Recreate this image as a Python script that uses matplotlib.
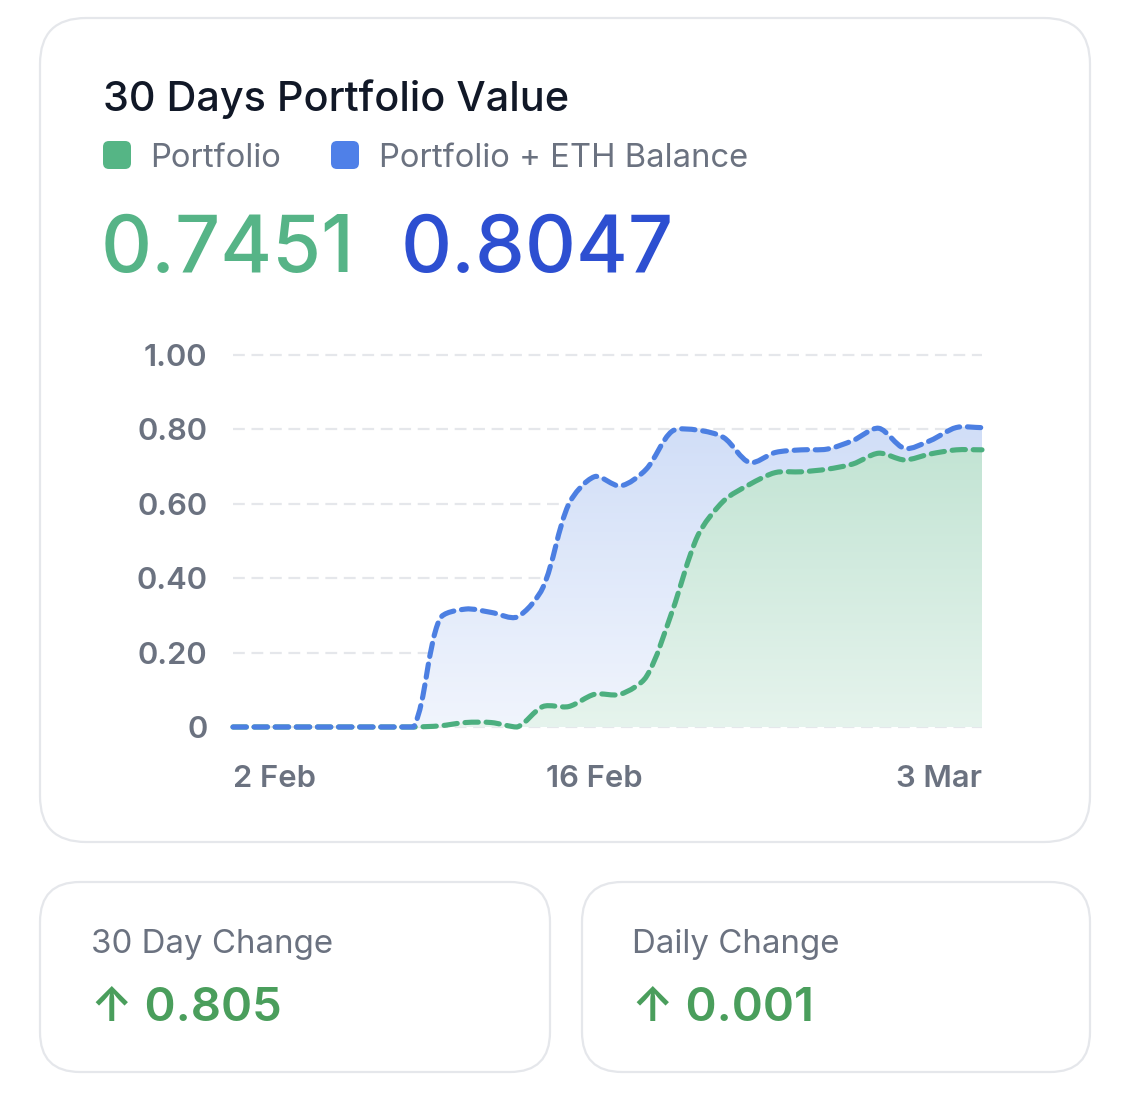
import numpy as np
import matplotlib
matplotlib.use('Agg')
import matplotlib.pyplot as plt
from matplotlib.patches import FancyBboxPatch, PathPatch
from matplotlib.path import Path
from matplotlib.colors import to_rgb

plt.rcParams['font.family'] = ['Inter', 'DejaVu Sans']
plt.rcParams['lines.scale_dashes'] = False

# ---------------- data ----------------
dates = [f'{d} Feb' for d in range(2, 29)] + ['1 Mar', '2 Mar', '3 Mar']
tick_labels = ['2 Feb', '16 Feb', '3 Mar']
y_ticks = [0, 0.2, 0.4, 0.6, 0.8, 1.0]
y_tick_labels = ['0', '0.20', '0.40', '0.60', '0.80', '1.00']

portfolio = [0, 0, 0, 0, 0, 0, 0, 0, 0.003, 0.012, 0.012, 0.0, 0.055, 0.055,
             0.088, 0.088, 0.135, 0.31, 0.515, 0.608, 0.652, 0.684, 0.686,
             0.693, 0.707, 0.736, 0.718, 0.734, 0.745, 0.7451]
portfolio_eth = [0, 0, 0, 0, 0, 0, 0, 0, 0.29, 0.317, 0.308, 0.296, 0.375,
                 0.599, 0.673, 0.648, 0.693, 0.795, 0.798, 0.778, 0.711, 0.738,
                 0.745, 0.747, 0.770, 0.803, 0.749, 0.770, 0.805, 0.8047]

legend_labels = ['Portfolio', 'Portfolio + ETH Balance']
headline_values = ['0.7451', '0.8047']
card_titles = ['30 Day Change', 'Daily Change']
card_values = ['↑ 0.805', '↑ 0.001']

# ---------------- style ----------------
GREEN_LINE = '#4caf7f'
BLUE_LINE = '#4c7fe2'
GREEN_SQ = '#55b585'
BLUE_SQ = '#4f80e8'
GREEN_TXT = '#56b487'
BLUE_TXT = '#2d4fd1'
CHANGE_GREEN = '#4a9e5c'
GRAY_TXT = '#6b7280'
DARK_TXT = '#111827'
BORDER = '#e5e7eb'

W, H = 1125, 1116
fig = plt.figure(figsize=(W / 100, H / 100), dpi=100)
fig.patch.set_facecolor('white')

bg = fig.add_axes([0, 0, 1, 1])
bg.set_xlim(0, W)
bg.set_ylim(H, 0)
bg.axis('off')


def card(x0, y0, x1, y1, r):
    p = FancyBboxPatch((x0, y0), x1 - x0, y1 - y0,
                       boxstyle=f'round,pad=0,rounding_size={r}',
                       facecolor='white', edgecolor=BORDER, linewidth=1.6)
    bg.add_patch(p)


card(40, 18, 1090, 842, 46)
card(40, 882, 550, 1072, 40)
card(582, 882, 1090, 1072, 40)

# title
bg.text(103, 111, '30 Days Portfolio Value', fontsize=29.8, color=DARK_TXT,
        fontweight='medium', va='baseline', ha='left')

# legend
for (sx, tx), lab, col in zip([(103, 150), (331, 379)], legend_labels, [GREEN_SQ, BLUE_SQ]):
    bg.add_patch(FancyBboxPatch((sx, 141), 28, 28,
                                boxstyle='round,pad=0,rounding_size=6',
                                facecolor=col, edgecolor='none'))
    bg.text(tx, 167, lab, fontsize=23.6, color=GRAY_TXT, va='baseline', ha='left')

# headline numbers
bg.text(101, 272, headline_values[0], fontsize=57, color=GREEN_TXT,
        fontweight='medium', va='baseline', ha='left')
bg.text(401, 272, headline_values[1], fontsize=57, color=BLUE_TXT,
        fontweight='medium', va='baseline', ha='left')

# bottom cards
for x, t, v in zip([91, 632], card_titles, card_values):
    bg.text(x, 953, t, fontsize=23.8, color=GRAY_TXT, va='baseline', ha='left')
    bg.text(x, 1021, v, fontsize=34, color=CHANGE_GREEN, fontweight='semibold',
            va='baseline', ha='left')

# ---------------- chart ----------------
x0p, x1p, y0p, y1p = 233, 982, 727, 355
ax = fig.add_axes([x0p / W, (H - y0p) / H, (x1p - x0p) / W, (y0p - y1p) / H])
ax.set_facecolor('none')
xs = np.arange(len(dates))
ax.set_xlim(0, len(dates) - 1)
ax.set_ylim(0, 1)
for s in ax.spines.values():
    s.set_visible(False)

for yv in y_ticks:
    ax.axhline(yv, color=BORDER, lw=1.6, linestyle=(0, (8.5, 4.8)),
               zorder=0.5, clip_on=False)

ax.set_yticks(y_ticks)
ax.set_yticklabels(y_tick_labels)
tick_pos = [dates.index(t) for t in tick_labels]
ax.set_xticks(tick_pos)
ax.set_xticklabels(tick_labels)
ax.tick_params(axis='y', length=0, pad=18.5, labelsize=22.3, labelcolor=GRAY_TXT)
ax.tick_params(axis='x', length=0, pad=27.5, labelsize=22.3, labelcolor=GRAY_TXT)
for lab in ax.get_yticklabels() + ax.get_xticklabels():
    lab.set_fontweight('semibold')
xl = ax.get_xticklabels()
xl[0].set_ha('left')
xl[1].set_ha('center')
xl[-1].set_ha('right')


def smooth_verts(xv, yv, tension=0.3):
    pts = ax.transData.transform(np.column_stack([xv, yv]))
    n = len(pts)
    cpp = pts.copy()
    cpn = pts.copy()
    for i in range(n):
        p0 = pts[i - 1] if i > 0 else pts[i]
        p1 = pts[i]
        p2 = pts[i + 1] if i < n - 1 else pts[i]
        d01 = np.hypot(*(p1 - p0))
        d12 = np.hypot(*(p2 - p1))
        tot = d01 + d12
        s01 = d01 / tot if tot > 0 else 0
        s12 = d12 / tot if tot > 0 else 0
        cpp[i] = p1 - tension * s01 * (p2 - p0)
        cpn[i] = p1 + tension * s12 * (p2 - p0)
    bb = ax.bbox
    for c in (cpp, cpn):
        c[:, 0] = np.clip(c[:, 0], bb.x0, bb.x1)
        c[:, 1] = np.clip(c[:, 1], bb.y0, bb.y1)
    verts = [pts[0]]
    codes = [Path.MOVETO]
    for i in range(1, n):
        verts += [cpn[i - 1], cpp[i], pts[i]]
        codes += [Path.CURVE4] * 3
    verts = ax.transData.inverted().transform(np.array(verts))
    return verts, codes


def gradient_fill(verts, codes, color, a_top, a_bot, z):
    fv = np.vstack([verts, [[xs[-1], 0], [xs[0], 0], [xs[0], 0]]])
    fc = codes + [Path.LINETO, Path.LINETO, Path.CLOSEPOLY]
    clip = PathPatch(Path(fv, fc), transform=ax.transData, facecolor='none',
                     edgecolor='none')
    ax.add_patch(clip)
    rgb = np.array(to_rgb(color))
    n = 256
    a = np.linspace(a_top, a_bot, n)[:, None]
    col = 1 - a * (1 - rgb[None, :])
    img = col[:, None, :]
    im = ax.imshow(img, extent=[xs[0], xs[-1], 0, 1], aspect='auto',
                   origin='upper', zorder=z, interpolation='bilinear')
    im.set_clip_path(clip)


bv, bc = smooth_verts(xs, portfolio_eth)
gv, gc = smooth_verts(xs, portfolio)
gradient_fill(bv, bc, BLUE_LINE, 0.30, 0.08, 1)
gradient_fill(gv, gc, GREEN_LINE, 0.40, 0.14, 2)
ax.set_xlim(0, len(dates) - 1)
ax.set_ylim(0, 1)

dash = (0, (9.6, 5.6))
ax.add_patch(PathPatch(Path(gv, gc), facecolor='none', edgecolor=GREEN_LINE,
                       lw=3.7, linestyle=dash, capstyle='round',
                       joinstyle='round', zorder=3, clip_on=False))
ax.add_patch(PathPatch(Path(bv, bc), facecolor='none', edgecolor=BLUE_LINE,
                       lw=3.7, linestyle=dash, capstyle='round',
                       joinstyle='round', zorder=4, clip_on=False))

fig.savefig('out.png', dpi=100, facecolor='white')
